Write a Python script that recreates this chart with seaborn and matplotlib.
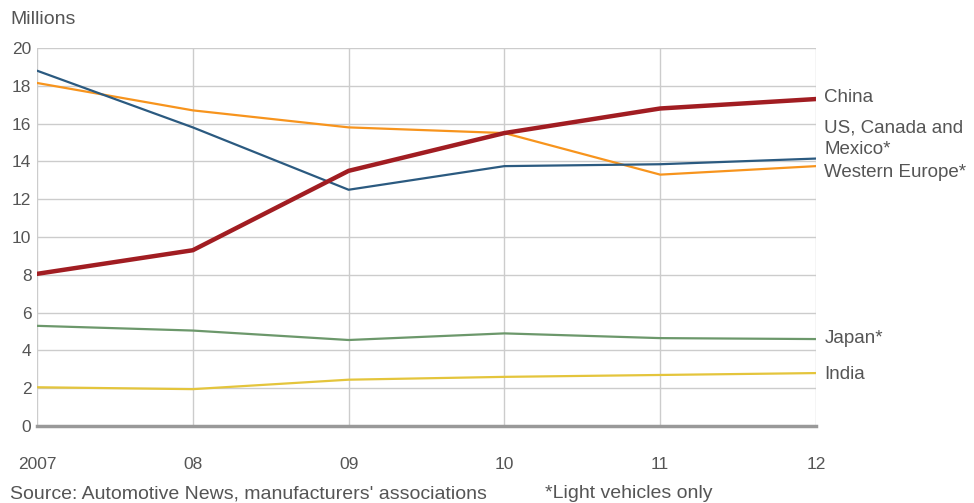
import pandas as pd
import matplotlib.pyplot as plt
import seaborn as sns

# Car sales by region, millions
years = [2007, 2008, 2009, 2010, 2011, 2012]
year_labels = ["2007", "08", "09", "10", "11", "12"]

china = [8.05, 9.3, 13.5, 15.5, 16.8, 17.3]
us_canada_mexico = [18.8, 15.8, 12.5, 13.75, 13.85, 14.15]
western_europe = [18.15, 16.7, 15.8, 15.5, 13.3, 13.75]
japan = [5.3, 5.05, 4.55, 4.9, 4.65, 4.6]
india = [2.05, 1.95, 2.45, 2.6, 2.7, 2.8]

regions = ["China", "US, Canada and\nMexico*", "Western Europe*", "Japan*", "India"]
series = [china, us_canada_mexico, western_europe, japan, india]
colors = ["#a11d22", "#2b5a80", "#f7941d", "#6c986b", "#e4c53c"]
widths = [3.2, 1.6, 1.6, 1.6, 1.6]
label_y = [17.4, 15.2, 13.4, 4.65, 2.75]

rows = []
for name, vals in zip(regions, series):
    for yr, v in zip(years, vals):
        rows.append({"year": yr, "region": name, "sales": v})
df = pd.DataFrame(rows)

sns.set_style("white")
plt.rcParams["font.family"] = ["Liberation Sans", "DejaVu Sans"]

grey = "#555555"
fig = plt.figure(figsize=(9.74, 5.03), dpi=100)
ax = fig.add_axes([37 / 974, 77 / 503, (816 - 37) / 974, (426 - 48) / 503])

# draw thin lines first, China on top
order = [4, 3, 2, 1, 0]
for i in order:
    sub = df[df["region"] == regions[i]]
    sns.lineplot(data=sub, x="year", y="sales", color=colors[i],
                 linewidth=widths[i], ax=ax, legend=False)

ax.set_xlim(2007, 2012)
ax.set_ylim(0, 20)
ax.set_xticks(years)
ax.set_xticklabels(year_labels)
ax.set_yticks(range(0, 21, 2))
ax.set_xlabel("")
ax.set_ylabel("")
ax.grid(True, color="#cccccc", linewidth=1)
ax.set_axisbelow(True)
for side in ["top", "left", "right"]:
    ax.spines[side].set_visible(False)
ax.spines["bottom"].set_color("#999999")
ax.spines["bottom"].set_linewidth(2.5)
ax.tick_params(axis="both", length=0, labelsize=12.5, labelcolor=grey)
ax.tick_params(axis="x", pad=22)
ax.tick_params(axis="y", pad=4)

for name, y in zip(regions, label_y):
    ax.annotate(name, xy=(2012, y), xytext=(6, 0), textcoords="offset points",
                va="center", ha="left", fontsize=13.5, color=grey,
                linespacing=1.4, annotation_clip=False)

fig.text(10 / 974, 1 - 20 / 503, "Millions", fontsize=14, color=grey, va="center")
fig.text(10 / 974, 1 - 494 / 503, "Source: Automotive News, manufacturers' associations",
         fontsize=14, color=grey, va="center")
fig.text(545 / 974, 1 - 494 / 503, "*Light vehicles only",
         fontsize=14, color=grey, va="center")

fig.savefig("out.png", dpi=100)
